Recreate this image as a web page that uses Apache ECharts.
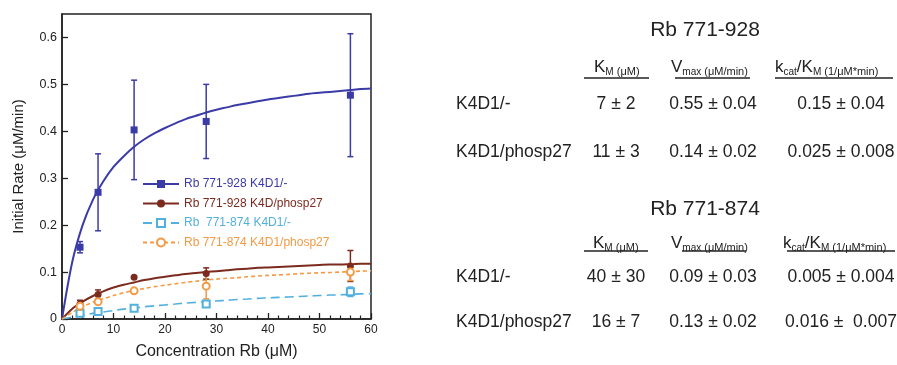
<!DOCTYPE html>
<html>
<head>
<meta charset="utf-8">
<script src="https://cdn.jsdelivr.net/npm/echarts@6/dist/echarts.min.js"></script>
<style>
  html, body { margin: 0; padding: 0; background: #fff; }
  #chart { width: 897px; height: 365px; }
</style>
</head>
<body>
<div id="chart"></div>
<script>
// measured points (x = Rb concentration, uM)
var concX = [3.5, 7, 14, 28, 56]
var rate928 = [0.153, 0.27, 0.403, 0.421, 0.477]
var err928 = [0.012, 0.082, 0.106, 0.079, 0.131]
var rate928p = [0.032, 0.052, 0.089, 0.097, 0.113]
var err928p = [0.008, 0.01, 0, 0.012, 0.033]
var rate874 = [0.012, 0.016, 0.023, 0.032, 0.058]
var err874 = [0.004, 0.003, 0.003, 0.007, 0.01]
var rate874p = [0.027, 0.037, 0.06, 0.07, 0.1]
var err874p = [0.006, 0.006, 0.004, 0.027, 0.018]

// fitted curves, every 2 uM
var fitX = [0, 2, 4, 6, 8, 10, 12, 14, 16, 18, 20, 22, 24, 26, 28, 30, 32, 34, 36, 38, 40, 42, 44, 46, 48, 50, 52, 54, 56, 58, 60]
var fit928 = [0, 0.122, 0.2, 0.254, 0.293, 0.324, 0.347, 0.367, 0.383, 0.396, 0.407, 0.417, 0.426, 0.433, 0.44, 0.446, 0.451, 0.456, 0.46, 0.464, 0.468, 0.471, 0.474, 0.477, 0.48, 0.482, 0.484, 0.486, 0.488, 0.49, 0.491]
var fit928p = [0, 0.022, 0.037, 0.049, 0.059, 0.067, 0.073, 0.078, 0.083, 0.087, 0.09, 0.093, 0.096, 0.098, 0.1, 0.102, 0.104, 0.106, 0.107, 0.109, 0.11, 0.111, 0.112, 0.113, 0.114, 0.115, 0.116, 0.116, 0.117, 0.118, 0.118]
var fit874 = [0, 0.004, 0.008, 0.012, 0.015, 0.018, 0.021, 0.023, 0.026, 0.028, 0.03, 0.032, 0.034, 0.0355, 0.037, 0.0385, 0.04, 0.0415, 0.0425, 0.044, 0.045, 0.046, 0.047, 0.048, 0.049, 0.05, 0.051, 0.0515, 0.0525, 0.0535, 0.054]
var fit874p = [0, 0.014, 0.026, 0.0355, 0.043, 0.05, 0.056, 0.061, 0.065, 0.069, 0.072, 0.075, 0.078, 0.0805, 0.083, 0.085, 0.087, 0.088, 0.09, 0.0915, 0.093, 0.094, 0.095, 0.0965, 0.0975, 0.0985, 0.099, 0.1, 0.101, 0.102, 0.1025]

var seriesNames = ['Rb 771-928 K4D1/-', 'Rb 771-928 K4D/phosp27', 'Rb  771-874 K4D1/-', 'Rb 771-874 K4D1/phosp27']
var colors = ['#3b3ba8', '#7c2a1e', '#52b0de', '#f39a45']

// kinetic table
var tableTitles = ['Rb 771-928', 'Rb 771-874']
var rowLabels = ['K4D1/-', 'K4D1/phosp27']
var kmVals = [['7 ± 2', '11 ± 3'], ['40 ± 30', '16 ± 7']]
var vmaxVals = [['0.55 ± 0.04', '0.14 ± 0.02'], ['0.09 ± 0.03', '0.13 ± 0.02']]
var kcatVals = [['0.15 ± 0.04', '0.025 ± 0.008'], ['0.005 ± 0.004', '0.016 ±  0.007']]

var FONT = '"Liberation Sans", Arial, Helvetica, sans-serif'

function pairs(xs, ys, es) {
  return xs.map(function(x, i) { return es ? [x, ys[i], es[i]] : [x, ys[i]] })
}

function errorBar(params, api) {
  var x = api.value(0)
  var y = api.value(1)
  var e = api.value(2)
  if (!e) return null
  var hi = api.coord([x, y + e])
  var lo = api.coord([x, y - e])
  var w = 3
  var style = { stroke: api.visual('color'), lineWidth: 1.5 }
  return {
    type: 'group',
    children: [
      { type: 'line', shape: { x1: hi[0], y1: hi[1], x2: lo[0], y2: lo[1] }, style: style },
      { type: 'line', shape: { x1: hi[0] - w, y1: hi[1], x2: hi[0] + w, y2: hi[1] }, style: style },
      { type: 'line', shape: { x1: lo[0] - w, y1: lo[1], x2: lo[0] + w, y2: lo[1] }, style: style }
    ]
  }
}

var fits = [fit928, fit928p, fit874, fit874p]
var rates = [rate928, rate928p, rate874, rate874p]
var errs = [err928, err928p, err874, err874p]
var symbols = ['rect', 'circle', 'emptyRect', 'emptyCircle']
var lineTypes = ['solid', 'solid', [9, 5], [4, 3]]
var lineWidths = [2, 2, 1.6, 1.6]

var seriesList = []
fits.forEach(function(fit, i) {
  seriesList.push({
    name: seriesNames[i],
    type: 'line',
    data: pairs(fitX, fit),
    smooth: 0.3,
    showSymbol: false,
    symbol: symbols[i],
    color: colors[i],
    lineStyle: { color: colors[i], width: lineWidths[i], type: lineTypes[i] },
    itemStyle: { color: colors[i] },
    silent: true,
    z: 2
  })
  seriesList.push({
    name: 'err' + i,
    type: 'custom',
    data: pairs(concX, rates[i], errs[i]),
    renderItem: errorBar,
    encode: { x: 0, y: 1 },
    itemStyle: { color: colors[i] },
    silent: true,
    z: 3
  })
  seriesList.push({
    name: 'pts' + i,
    type: 'scatter',
    data: pairs(concX, rates[i]),
    symbol: symbols[i],
    symbolSize: 7,
    itemStyle: { color: colors[i], borderColor: colors[i], borderWidth: i >= 2 ? 1.5 : 0, opacity: 1 },
    silent: true,
    z: 4
  })
})

// table graphics
var graphics = []
var tableTop = [30, 209]
var headerY = [67, 243]
var lineY = [78, 251]
var rowY = [[104, 152], [277, 322]]
var headLeft = [[594, 671, 775], [593, 671, 783]]
var underlines = [[[584, 649], [675, 750], [775, 893]], [[584, 648], [682, 746], [787, 895]]]
var colCenters = [616, 713, 841]
var headTexts = ['{m|K}{s|M}{u| (μM)}', '{m|V}{s|max}{u| (μM/min)}', '{m|k}{s|cat}{m|/K}{s|M}{u| (1/μM*min)}']
var rich = {
  m: { fontSize: 17, lineHeight: 20, fontFamily: FONT, fill: '#222' },
  s: { fontSize: 10, lineHeight: 10, verticalAlign: 'bottom', fontFamily: FONT, fill: '#222' },
  u: { fontSize: 11, lineHeight: 14, verticalAlign: 'bottom', fontFamily: FONT, fill: '#222' }
}

tableTitles.forEach(function(title, t) {
  graphics.push({
    type: 'text', x: 705, y: tableTop[t],
    style: { text: title, font: '21px ' + FONT, fill: '#222', align: 'center', verticalAlign: 'middle' }
  })
  headTexts.forEach(function(h, c) {
    graphics.push({
      type: 'text', x: headLeft[t][c], y: headerY[t],
      style: { text: h, rich: rich, fill: '#222', align: 'left', verticalAlign: 'middle' }
    })
    graphics.push({
      type: 'line',
      shape: { x1: underlines[t][c][0], y1: lineY[t], x2: underlines[t][c][1], y2: lineY[t] },
      style: { stroke: '#222', lineWidth: 1.6 }
    })
  })
  rowLabels.forEach(function(lab, r) {
    graphics.push({
      type: 'text', x: 456, y: rowY[t][r],
      style: { text: lab, font: '17.5px ' + FONT, fill: '#222', align: 'left', verticalAlign: 'middle' }
    })
    var vals = [kmVals[t][r], vmaxVals[t][r], kcatVals[t][r]]
    vals.forEach(function(v, c) {
      graphics.push({
        type: 'text', x: colCenters[c], y: rowY[t][r],
        style: { text: v, font: '17.5px ' + FONT, fill: '#222', align: 'center', verticalAlign: 'middle' }
      })
    })
  })
})

var chart = echarts.init(document.getElementById('chart'), null, { renderer: 'canvas' })
chart.setOption({
  animation: false,
  backgroundColor: '#fff',
  textStyle: { fontFamily: FONT },
  grid: {
    left: 62, right: 526, top: 14, bottom: 43.5,
    show: true, borderColor: '#222', borderWidth: 1.5
  },
  legend: {
    orient: 'vertical',
    left: 142,
    top: 177,
    padding: 0,
    itemWidth: 36,
    itemHeight: 10,
    itemGap: 5.5,
    selectedMode: false,
    textStyle: { fontSize: 12, lineHeight: 14, fontFamily: FONT },
    data: seriesNames.map(function(n, i) {
      return { name: n, textStyle: { color: colors[i] } }
    })
  },
  xAxis: {
    type: 'value',
    min: 0,
    max: 60,
    interval: 10,
    name: 'Concentration Rb (μM)',
    nameLocation: 'middle',
    nameGap: 25,
    nameTextStyle: { fontSize: 16, color: '#222', fontFamily: FONT },
    axisLine: { lineStyle: { color: '#222', width: 1.5 } },
    axisTick: { inside: true, length: 6, lineStyle: { color: '#222', width: 1.3 } },
    minorTick: { show: true, splitNumber: 5, length: 3.5, lineStyle: { color: '#222', width: 1.2 } },
    splitLine: { show: false },
    axisLabel: { fontSize: 12, color: '#222', margin: 5 }
  },
  yAxis: {
    type: 'value',
    min: 0,
    max: 0.65,
    interval: 0.1,
    name: 'Initial Rate (μM/min)',
    nameLocation: 'middle',
    nameGap: 36,
    nameTextStyle: { fontSize: 15, color: '#222', fontFamily: FONT },
    axisLine: { lineStyle: { color: '#222', width: 1.5 } },
    axisTick: { inside: true, length: 6, lineStyle: { color: '#222', width: 1.3 } },
    splitLine: { show: false },
    axisLabel: { fontSize: 12.5, color: '#222', margin: 5, showMaxLabel: false }
  },
  series: seriesList,
  graphic: graphics
})
</script>
</body>
</html>
